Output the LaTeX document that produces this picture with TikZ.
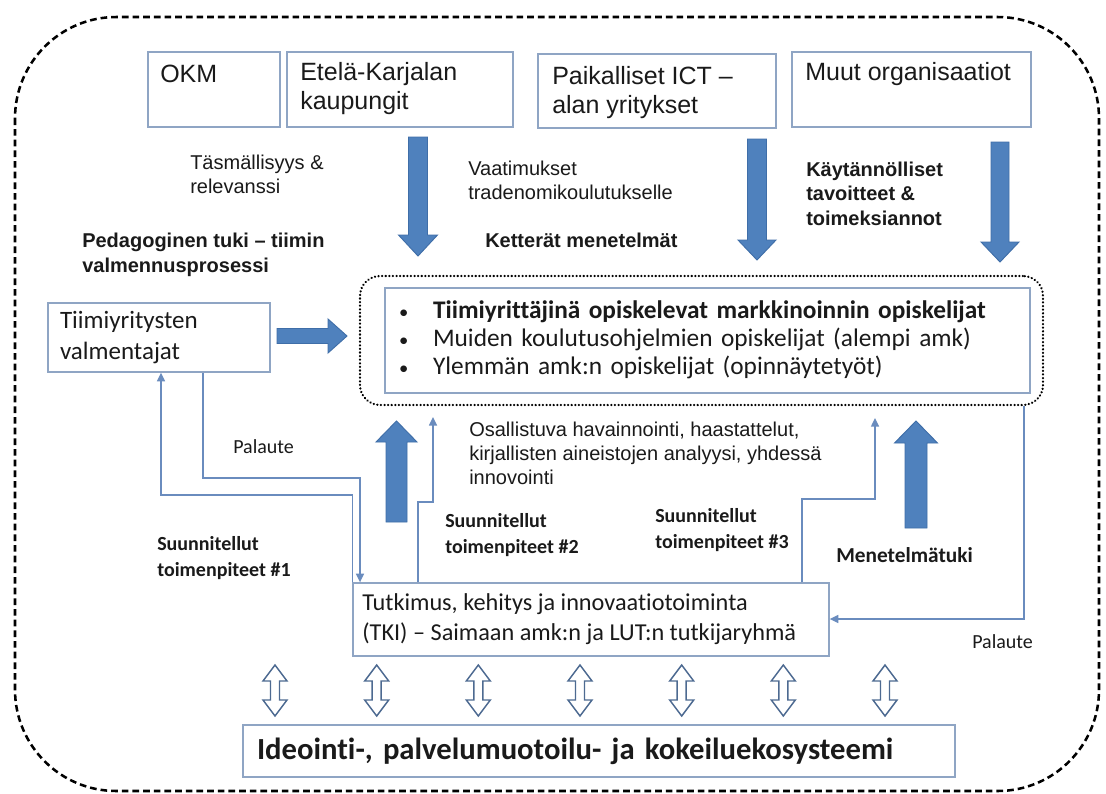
\documentclass[tikz,border=0pt]{standalone}
\usepackage{fontspec}
\setmainfont[Ligatures=NoCommon]{Carlito}
\newfontfamily\arialf{Liberation Sans}
\newfontfamily\calf[Ligatures=NoCommon]{Carlito}
\usetikzlibrary{arrows.meta}
\definecolor{boxline}{HTML}{8FA5C4}
\definecolor{arrowfill}{HTML}{4F81BD}
\definecolor{arrowline}{HTML}{3F6EA8}
\definecolor{thinline}{HTML}{6A8CBE}
\definecolor{hollow}{HTML}{4D6A91}
\definecolor{txt}{HTML}{1A1A1A}
\newcommand{\vblockarrow}[6]{%
  \filldraw[bigarr] ({#1-#4},#2) -- ({#1-#4},{#3-(#6)}) -- ({#1-#5},{#3-(#6)}) -- (#1,#3) -- ({#1+#5},{#3-(#6)}) -- ({#1+#4},{#3-(#6)}) -- ({#1+#4},#2) -- cycle;}
\newcommand{\hblockarrow}[6]{%
  \filldraw[bigarr] (#2,{#1-#4}) -- ({#3-(#6)},{#1-#4}) -- ({#3-(#6)},{#1-#5}) -- (#3,#1) -- ({#3-(#6)},{#1+#5}) -- ({#3-(#6)},{#1+#4}) -- (#2,{#1+#4}) -- cycle;}
\newcommand{\smallbullet}{\makebox[27pt][l]{\hspace{1.5pt}{\fontsize{14}{14}\selectfont •}}}
\begin{document}
\begin{tikzpicture}[x=0.75pt,y=-0.75pt,
  box/.style={draw=boxline, line width=1pt, inner sep=0pt},
  bigarr/.style={fill=arrowfill, draw=arrowline, line width=0.7pt},
  thinln/.style={draw=thinline, line width=1.1pt},
  thinarr/.style={thinln, -{Triangle[width=6pt,length=6.5pt]}},
  hollowarr/.style={draw=hollow, fill=white, line width=1.1pt, line join=miter},
  outer/.style={draw=black, line width=1.9pt, dash pattern=on 5pt off 3pt, rounded corners=76pt},
  grp/.style={draw=black, line width=1.8pt, dash pattern=on 0.1pt off 2.6pt, line cap=round, rounded corners=15pt},
  topt/.style={font=\arialf\fontsize{18.75}{21.75}\selectfont, text=txt, align=left, anchor=west, inner sep=0pt},
  arl/.style={font=\arialf\fontsize{15}{18}\selectfont, text=txt, align=left, anchor=west, inner sep=0pt},
  arlb/.style={font=\arialf\bfseries\fontsize{15}{18.4}\selectfont, text=txt, align=left, anchor=west, inner sep=0pt},
  call/.style={font=\calf\fontsize{15}{19.5}\selectfont, text=txt, align=left, anchor=west, inner sep=0pt},
  callb/.style={font=\calf\bfseries\fontsize{15}{19.5}\selectfont, text=txt, align=left, anchor=west, inner sep=0pt},
  calbox/.style={box, font=\calf\fontsize{18.75}{23}\selectfont, text=txt, align=left}
]
\useasboundingbox (0,0) rectangle (1106,793);
\fill[white] (0,0) rectangle (1106,793);

% outer dashed frame
\draw[outer] (15,17) rectangle (1099,791);

% top boxes
\node[box, minimum width=99pt, minimum height=56.25pt] (okm) at (214,89.5) {};
\node[box, minimum width=169.5pt, minimum height=56.25pt] (etela) at (400,89.5) {};
\node[box, minimum width=178.5pt, minimum height=55.5pt] (paik) at (657,91) {};
\node[box, minimum width=179.25pt, minimum height=56.25pt] (muut) at (911.5,89.5) {};
\node[topt] (okmt) at (160,74) {OKM};
\node[topt] (etelat) at (300,88.5) {Etelä-Karjalan\\kaupungit};
\node[topt] (paikt) at (552,92.5) {Paikalliset ICT –\\alan yritykset};
\node[topt] (muutt) at (805,74) {Muut organisaatiot};

% labels in the upper part
\node[arl] (tasm) at (190,174) {Täsmällisyys \&\\relevanssi};
\node[arl] (vaat) at (468,180) {Vaatimukset\\tradenomikoulutukselle};
\node[arlb] (kett) at (485,240) {Ketterät menetelmät};
\node[arlb] (kayt) at (806,193.5) {Käytännölliset\\tavoitteet \&\\toimeksiannot};
\node[arlb] (peda) at (82,255) {Pedagoginen tuki – tiimin\\valmennusprosessi};

% big down arrows
\vblockarrow{418}{137}{256}{9.5}{19.5}{21}
\vblockarrow{757}{139}{260}{9.5}{19}{20}
\vblockarrow{1000}{142}{262}{9}{19}{20}

% coach box
\node[calbox, minimum width=166.5pt, minimum height=51.75pt, text width=148.5pt, inner xsep=9pt] (tiimi) at (159,337.5) {Tiimiyritysten\\valmentajat};

% students group
\node[grp, minimum width=512.25pt, minimum height=96.75pt] (grp) at (701.5,340.5) {};
\node[box, minimum width=483.75pt, minimum height=78.75pt, inner xsep=9pt, text width=465.75pt, align=left,
      font=\calf\fontsize{19}{21}\selectfont, text=txt] (stud) at (707.5,340.5)
  {\begin{tabular}{@{}l@{}l@{}}
   \smallbullet&\bfseries Tiimiyrittäjinä opiskelevat markkinoinnin opiskelijat\\
   \smallbullet&Muiden koulutusohjelmien opiskelijat (alempi amk)\\
   \smallbullet&Ylemmän amk:n opiskelijat (opinnäytetyöt)
   \end{tabular}};

% right block arrow coach -> students
\hblockarrow{336}{277}{347}{7.5}{17}{19}

% TKI box
\node[box, minimum width=357pt, minimum height=54.75pt, inner xsep=7pt, inner ysep=0pt,
      font=\calf\fontsize{18.2}{22.8}\selectfont, text=txt] (tki) at (591,619.5)
  {\makebox[343pt][l]{\begin{tabular}{@{}l@{}}Tutkimus, kehitys ja innovaatiotoiminta\\(TKI) – Saimaan amk:n ja LUT:n tutkijaryhmä\end{tabular}}};

% Ideointi box
\node[box, minimum width=534pt, minimum height=39pt, text width=513pt, inner xsep=10.5pt, align=left,
      font=\calf\bfseries\fontsize{23}{27}\selectfont, text=txt] (ideo) at (599,751)
  {Ideointi-, palvelumuotoilu- ja kokeiluekosysteemi};

% labels lower part
\node[arl] (osal) at (469,453.5) {Osallistuva havainnointi, haastattelut,\\kirjallisten aineistojen analyysi, yhdessä\\innovointi};
\node[call] (pal1) at (233,447) {Palaute};
\node[callb] (s1) at (157,558) {Suunnitellut\\toimenpiteet \#1};
\node[callb] (s2) at (445,535.5) {Suunnitellut\\toimenpiteet \#2};
\node[callb] (s3) at (655,530.5) {Suunnitellut\\toimenpiteet \#3};
\node[font=\calf\bfseries\fontsize{16}{19}\selectfont, text=txt, anchor=west, inner sep=0pt] (menet) at (836,555) {Menetelmätuki};
\node[call] (pal2) at (972,642) {Palaute};

% big up arrows
\vblockarrow{396.5}{522}{421}{10.5}{20.5}{-21}
\vblockarrow{916}{528}{421}{11}{21.5}{-22}

% thin feedback / action lines
\coordinate (l1a) at (161,495);
\draw[thinarr] (tki.north west) |- (l1a) -- (l1a |- tiimi.south);
\coordinate (l2a) at (203,478);
\coordinate (l2b) at (360,478);
\draw[thinarr] (l2a |- tiimi.south) -- (l2a) -- (l2b) -- (l2b |- tki.north);
\coordinate (t2a) at (418,502);
\coordinate (t2b) at (433,502);
\coordinate (t2c) at (433,417);
\draw[thinarr] (t2a |- tki.north) -- (t2a) -- (t2b) -- (t2c);
\coordinate (t3a) at (802,499);
\coordinate (t3b) at (875,499);
\coordinate (t3c) at (875,418);
\draw[thinarr] (t3a |- tki.north) -- (t3a) -- (t3b) -- (t3c);
\coordinate (ra) at (1024,619);
\draw[thinarr] (ra |- grp.south) -- (ra) -- (tki.east |- ra);

% hollow double arrows between TKI and ecosystem
\foreach \x in {275,376.7,478.3,580,681.7,783.3,885}{
  \draw[hollowarr] (\x,665) -- ({\x+12},681) -- ({\x+4.5},681) -- ({\x+4.5},700) -- ({\x+12},700) -- (\x,716)
    -- ({\x-12},700) -- ({\x-4.5},700) -- ({\x-4.5},681) -- ({\x-12},681) -- cycle;
}
\end{tikzpicture}
\end{document}
